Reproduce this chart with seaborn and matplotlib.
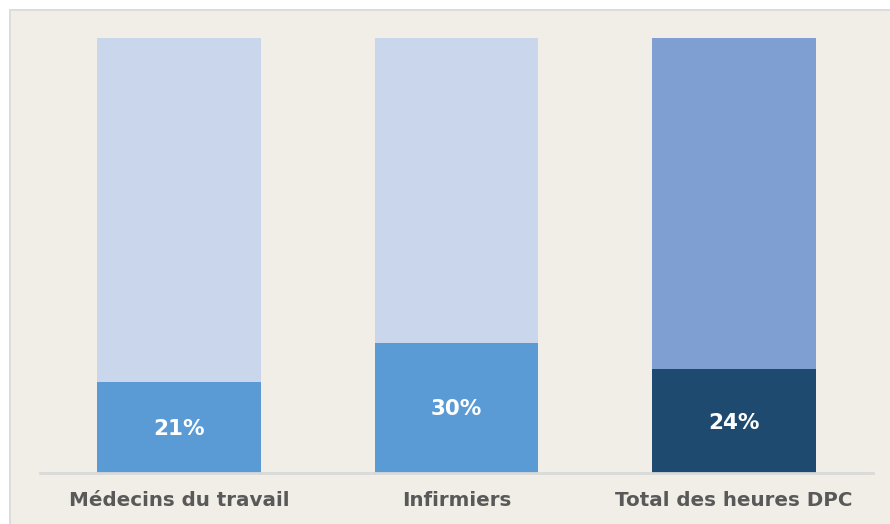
import matplotlib
matplotlib.use("Agg")
import matplotlib.pyplot as plt
import seaborn as sns
import pandas as pd
from matplotlib.patches import Rectangle

categories = ["Médecins du travail", "Infirmiers", "Total des heures DPC"]
values = [21, 30, 24]
totals = [100, 100, 100]
value_labels = ["21%", "30%", "24%"]
bottom_colors = ["#5b9bd5", "#5b9bd5", "#1f4a70"]
top_colors = ["#c9d6ec", "#c9d6ec", "#7f9fd3"]

bg = "#f1eee7"
sns.set_theme(style="white")
plt.rcParams["font.family"] = ["DejaVu Sans"]

fig = plt.figure(figsize=(8.9, 5.24), dpi=100)
fig.patch.set_facecolor(bg)
fig.patch.set_edgecolor(bg)
fig.patch.set_linewidth(0)
W, H = 890, 524
# white margin on top/left and light border
fig.patches.append(Rectangle((0, 0), 8.5 / W, 1, transform=fig.transFigure,
                             facecolor="white", edgecolor="none", lw=0, zorder=-10))
fig.patches.append(Rectangle((0, 1 - 8.5 / H), 1, 8.5 / H, transform=fig.transFigure,
                             facecolor="white", edgecolor="none", lw=0, zorder=-10))
fig.patches.append(Rectangle((8.5 / W, 0), 2.5 / W, 1 - 8.5 / H, transform=fig.transFigure,
                             facecolor="#dcdcdc", edgecolor="none", lw=0, zorder=-9))
fig.patches.append(Rectangle((8.5 / W, 1 - 11 / H), 1, 2.5 / H, transform=fig.transFigure,
                             facecolor="#dcdcdc", edgecolor="none", lw=0, zorder=-9))

ax = fig.add_axes([40 / W, (H - 473) / H, 833 / W, 435 / H])
ax.set_facecolor("none")
ax.set_zorder(5)

df = pd.DataFrame({"cat": categories, "total": totals, "val": values})
sns.barplot(data=df, x="cat", y="total", hue="cat", palette=top_colors, width=0.59,
            legend=False, ax=ax, saturation=1, edgecolor="none")
sns.barplot(data=df, x="cat", y="val", hue="cat", palette=bottom_colors, width=0.59,
            legend=False, ax=ax, saturation=1, edgecolor="none")

for i, (v, lab) in enumerate(zip(values, value_labels)):
    ax.text(i, v / 2 - 0.4, lab, ha="center", va="center", color="white",
            fontsize=15.5, fontweight="bold")

ax.set_xlim(-0.5, 2.5)
ax.set_ylim(0, 100)
ax.set_xlabel("")
ax.set_ylabel("")
ax.set_yticks([])
ax.tick_params(axis="x", length=0, pad=13, labelsize=14.3, labelcolor="#595959")
for t in ax.get_xticklabels():
    t.set_fontweight("bold")
for s in ["top", "right", "left"]:
    ax.spines[s].set_visible(False)
ax.spines["bottom"].set_color("#d9d9d9")
ax.spines["bottom"].set_linewidth(2)

fig.savefig("out.png", dpi=100, facecolor=bg, edgecolor="none")
